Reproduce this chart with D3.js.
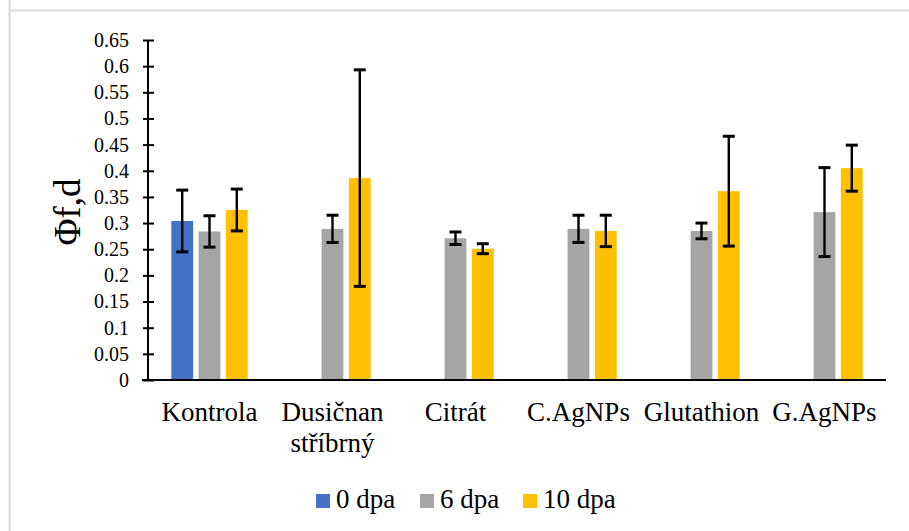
<!DOCTYPE html>
<html>
<head>
<meta charset="utf-8">
<script src="https://cdn.jsdelivr.net/npm/d3@7"></script>
<style>
  html, body { margin: 0; padding: 0; background: #fff; }
  svg { display: block; }
</style>
</head>
<body>
<svg id="chart" width="909" height="531"></svg>
<script>
// ---- data ----
const categories = ["Kontrola", "Dusičnan stříbrný", "Citrát", "C.AgNPs", "Glutathion", "G.AgNPs"];
const seriesNames = ["0 dpa", "6 dpa", "10 dpa"];
const values0 = [0.304, null, null, null, null, null];
const values6 = [0.284, 0.289, 0.271, 0.289, 0.285, 0.321];
const values10 = [0.325, 0.386, 0.251, 0.285, 0.361, 0.405];
const errors0 = [0.059, null, null, null, null, null];
const errors6 = [0.030, 0.026, 0.012, 0.026, 0.015, 0.085];
const errors10 = [0.040, 0.207, 0.0095, 0.030, 0.105, 0.044];
const yTicks = [0, 0.05, 0.1, 0.15, 0.2, 0.25, 0.3, 0.35, 0.4, 0.45, 0.5, 0.55, 0.6, 0.65];
const colors = ["#4472C4", "#A5A5A5", "#FFC000"];
const yTitle = "Φf,d";

const allValues = [values0, values6, values10];
const allErrors = [errors0, errors6, errors10];

(function () {
const svg = d3.select("#chart");
const serif = "'Liberation Serif', 'Times New Roman', serif";

// frame borders
svg.append("line").attr("x1", 9).attr("x2", 909).attr("y1", 10.5).attr("y2", 10.5)
  .attr("stroke", "#d9d9d9").attr("stroke-width", 2);
svg.append("line").attr("x1", 9.5).attr("x2", 9.5).attr("y1", 0).attr("y2", 531)
  .attr("stroke", "#d9d9d9").attr("stroke-width", 2);

const pLeft = 148, pRight = 886, pTop = 40, pBottom = 380;

const y = d3.scaleLinear().domain([0, 0.65]).range([pBottom, pTop]);
const x0 = d3.scaleBand().domain(categories).range([pLeft, pRight])
  .paddingInner(0.379).paddingOuter(0.1895);
const x1 = d3.scaleBand().domain(seriesNames).range([0, x0.bandwidth()]).paddingInner(0.2);

// bars
const barData = [];
categories.forEach((c, i) => {
  seriesNames.forEach((s, j) => {
    const v = allValues[j][i];
    if (v != null) barData.push({ c, s, j, v, e: allErrors[j][i] });
  });
});

svg.append("g").selectAll("rect").data(barData).join("rect")
  .attr("x", d => x0(d.c) + x1(d.s))
  .attr("width", x1.bandwidth())
  .attr("y", d => y(d.v))
  .attr("height", d => y(0) - y(d.v))
  .attr("fill", d => colors[d.j]);

// error bars
const eg = svg.append("g").attr("stroke", "#000").attr("stroke-width", 2.4);
barData.forEach(d => {
  const cx = x0(d.c) + x1(d.s) + x1.bandwidth() / 2;
  const y1 = y(d.v + d.e), y2 = y(d.v - d.e);
  eg.append("line").attr("x1", cx).attr("x2", cx).attr("y1", y1).attr("y2", y2);
  eg.append("line").attr("x1", cx - 6).attr("x2", cx + 6).attr("y1", y1).attr("y2", y1).attr("stroke-width", 3);
  eg.append("line").attr("x1", cx - 6).attr("x2", cx + 6).attr("y1", y2).attr("y2", y2).attr("stroke-width", 3);
});

// y axis
const yAxis = d3.axisLeft(y).tickValues(yTicks).tickSize(0).tickPadding(19)
  .tickFormat(d => String(+d.toFixed(2)));
const ya = svg.append("g").attr("transform", `translate(${pLeft},0)`).call(yAxis);
ya.select(".domain").remove();
ya.selectAll("text").style("font-family", serif).attr("font-size", 20).attr("fill", "#000");
ya.selectAll(".tick").append("line").attr("x1", -5).attr("x2", 6).attr("stroke", "#000").attr("stroke-width", 2);
svg.append("line").attr("x1", pLeft).attr("x2", pLeft).attr("y1", pTop).attr("y2", pBottom)
  .attr("stroke", "#000").attr("stroke-width", 2);

// x axis
const xAxis = d3.axisBottom(x0).tickSize(0).tickFormat("");
const xa = svg.append("g").attr("transform", `translate(0,${pBottom})`).call(xAxis);
xa.select(".domain").remove();
svg.append("line").attr("x1", pLeft - 6).attr("x2", pRight).attr("y1", pBottom).attr("y2", pBottom)
  .attr("stroke", "#000").attr("stroke-width", 2);

// category labels (wrapping Dusičnan stříbrný)
const catLines = { "Dusičnan stříbrný": ["Dusičnan", "stříbrný"] };
xa.selectAll(".tick").each(function(d) {
  const lines = catLines[d] || [d];
  const t = d3.select(this).append("text")
    .style("font-family", serif).attr("font-size", 27).attr("fill", "#000")
    .attr("text-anchor", "middle");
  lines.forEach((ln, k) => {
    t.append("tspan").attr("x", 0).attr("y", 41 + k * 31).text(ln);
  });
});

// y title
svg.append("text")
  .attr("transform", `translate(80,212) rotate(-90)`)
  .attr("text-anchor", "middle")
  .style("font-family", serif).attr("font-size", 37).attr("fill", "#000")
  .text(yTitle);

// legend
const legendX = [316, 420, 523];
const lg = svg.append("g");
seriesNames.forEach((s, j) => {
  lg.append("rect").attr("x", legendX[j]).attr("y", 494).attr("width", 14).attr("height", 14)
    .attr("fill", colors[j]);
  lg.append("text").attr("x", legendX[j] + 20).attr("y", 508)
    .style("font-family", serif).attr("font-size", 27).attr("fill", "#000").text(s);
});
})();
</script>
</body>
</html>
